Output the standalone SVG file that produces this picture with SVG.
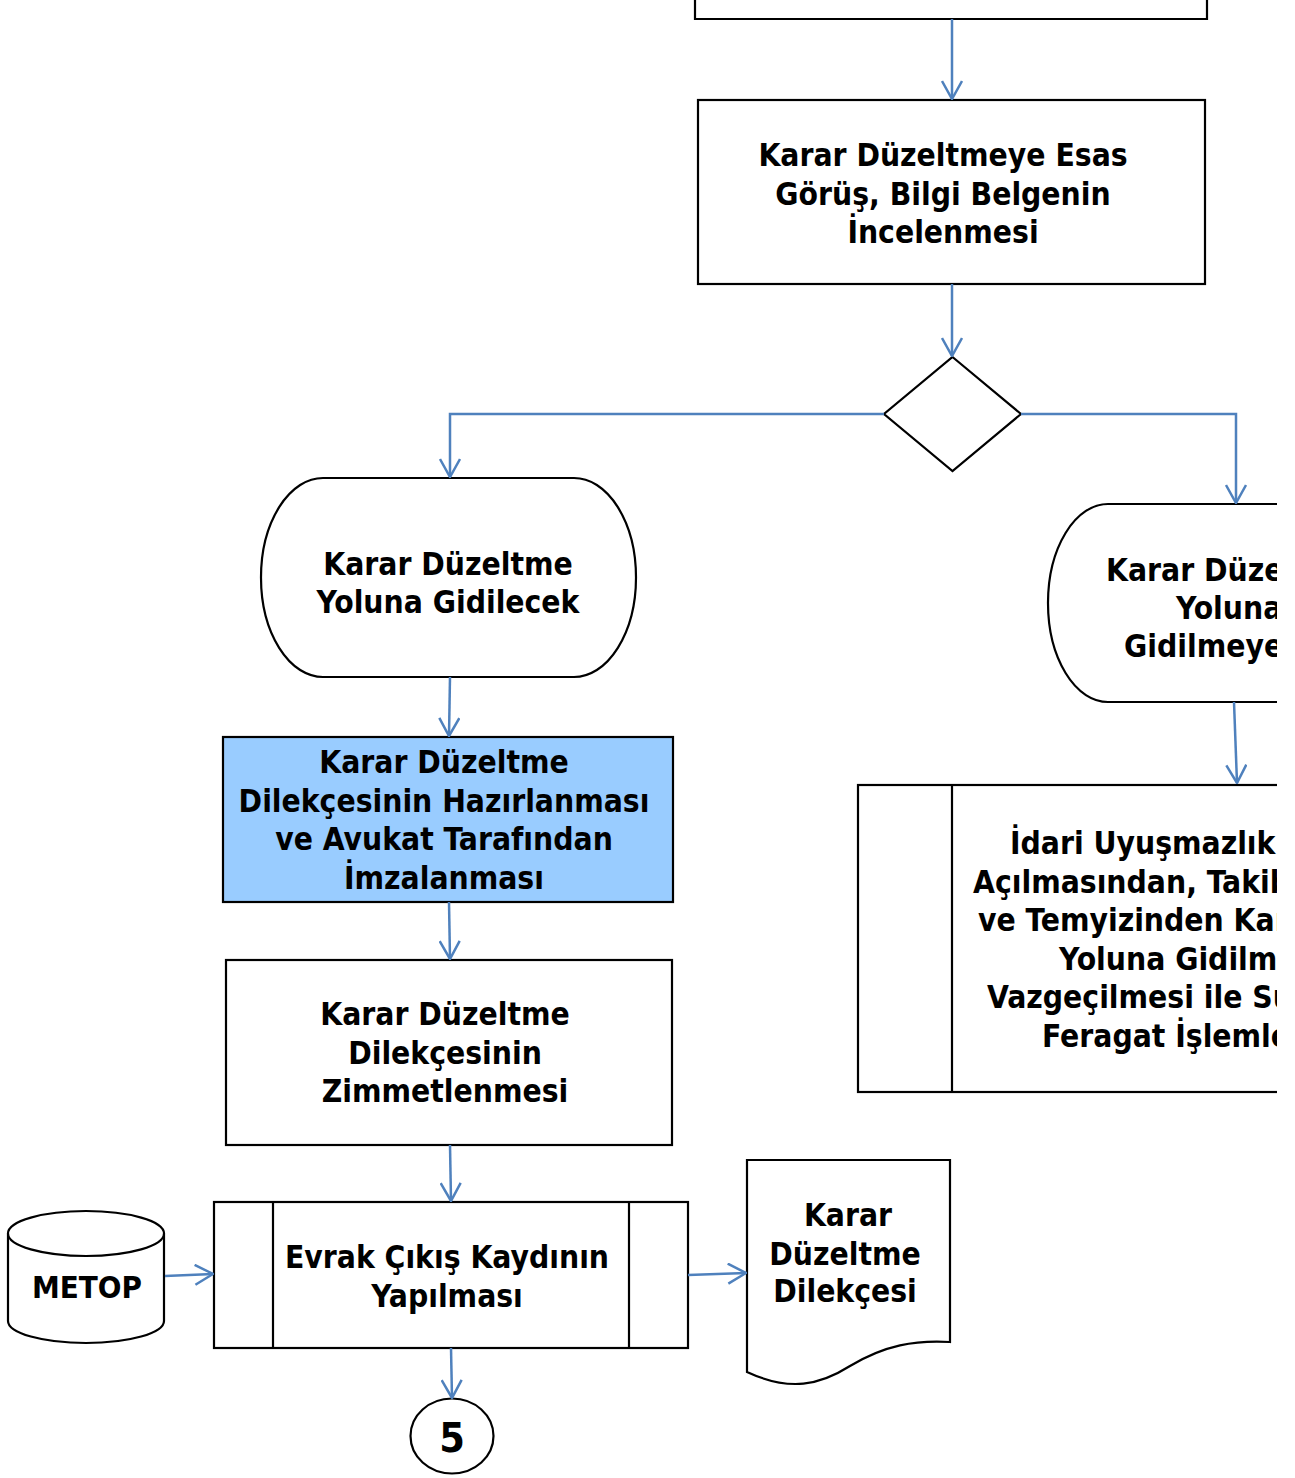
<svg xmlns="http://www.w3.org/2000/svg" width="1295" height="1478" viewBox="0 0 1295 1478">
<style>
.shape{fill:#fff;stroke:#000;stroke-width:2.2}
.blue{fill:#99CCFF;stroke:#000;stroke-width:2.2}
.line{fill:none;stroke:#4F81BD;stroke-width:2.5}
text{font-family:"DejaVu Sans Condensed","DejaVu Sans",sans-serif;font-weight:bold;font-size:31.5px;fill:#000}
.c{text-anchor:middle}
</style>
<defs>
<marker id="arr" markerUnits="userSpaceOnUse" viewBox="0 0 20 22" refX="19" refY="11" markerWidth="20" markerHeight="22" orient="auto">
<path d="M1,1 L19,11 L1,21" fill="none" stroke="#4F81BD" stroke-width="2.5"/>
</marker>
<clipPath id="clip"><rect x="0" y="0" width="1277" height="1478"/></clipPath>
</defs>
<rect width="1295" height="1478" fill="#fff"/>
<g clip-path="url(#clip)">
<g id="top-box"><path class="shape" d="M695,-2 V19 H1207 V-2" fill="none"/></g>
<g id="n-inceleme">
<rect class="shape" x="698" y="100" width="507" height="184"/>
<text class="c" x="943" y="166">Karar Düzeltmeye Esas</text>
<text class="c" x="943" y="205">Görüş, Bilgi Belgenin</text>
<text class="c" x="943" y="243">İncelenmesi</text>
</g>
<g id="n-karar"><path class="shape" d="M952.5,357 L1021,414 L952.5,471 L884,414 Z"/></g>
<g id="n-gidilecek">
<rect class="shape" x="261" y="478" width="375" height="199" rx="62" ry="99.5"/>
<text class="c" x="448" y="575">Karar Düzeltme</text>
<text class="c" x="448" y="613">Yoluna Gidilecek</text>
</g>
<g id="n-gidilmeyecek">
<rect class="shape" x="1048" y="504" width="375" height="198" rx="60" ry="99"/>
<text x="1106" y="581">Karar Düzeltme</text>
<text x="1176" y="619">Yoluna</text>
<text x="1124" y="657">Gidilmeyecek</text>
</g>
<g id="n-dilekce">
<rect class="blue" x="223" y="737" width="450" height="165"/>
<text class="c" x="444" y="773">Karar Düzeltme</text>
<text class="c" x="444" y="812">Dilekçesinin Hazırlanması</text>
<text class="c" x="444" y="850">ve Avukat Tarafından</text>
<text class="c" x="444" y="889">İmzalanması</text>
</g>
<g id="n-zimmet">
<rect class="shape" x="226" y="960" width="446" height="185"/>
<text class="c" x="445" y="1025">Karar Düzeltme</text>
<text class="c" x="445" y="1064">Dilekçesinin</text>
<text class="c" x="445" y="1102">Zimmetlenmesi</text>
</g>
<g id="n-feragat">
<rect class="shape" x="858" y="785" width="560" height="307"/>
<line class="shape" x1="952" y1="785" x2="952" y2="1092"/>
<text x="1010" y="854">İdari Uyuşmazlıkların</text>
<text x="973" y="893">Açılmasından, Takibinden</text>
<text x="978" y="931">ve Temyizinden Karar Düzeltme</text>
<text x="1059" y="970">Yoluna Gidilmesinden</text>
<text x="987" y="1008">Vazgeçilmesi ile Sulh ve</text>
<text x="1042" y="1047">Feragat İşlemleri</text>
</g>
<g id="n-evrak">
<rect class="shape" x="214" y="1202" width="474" height="146"/>
<line class="shape" x1="273" y1="1202" x2="273" y2="1348"/>
<line class="shape" x1="629" y1="1202" x2="629" y2="1348"/>
<text class="c" x="447" y="1268">Evrak Çıkış Kaydının</text>
<text class="c" x="447" y="1307">Yapılması</text>
</g>
<g id="n-metop">
<path class="shape" d="M8,1233.5 V1321 A78,22 0 0 0 164,1321 V1233.5"/>
<ellipse class="shape" cx="86" cy="1233.5" rx="78" ry="22.5"/>
<text class="c" x="87" y="1298" style="font-size:31px">METOP</text>
</g>
<g id="n-belge">
<path class="shape" d="M747,1160 H950 V1342 C915,1340 885,1345 850,1366 C820,1385 790,1392 747,1372 Z"/>
<text class="c" x="848" y="1226">Karar</text>
<text class="c" x="845" y="1265">Düzeltme</text>
<text class="c" x="845" y="1302">Dilekçesi</text>
</g>
<g id="n-5">
<ellipse class="shape" cx="452" cy="1436" rx="41.5" ry="37.5"/>
<text class="c" x="452" y="1452" style="font-size:41px">5</text>
</g>
<g id="connectors">
<path class="line" d="M952,19 V99" marker-end="url(#arr)"/>
<path class="line" d="M952,284 V356" marker-end="url(#arr)"/>
<path class="line" d="M884,414 H450 V477" marker-end="url(#arr)"/>
<path class="line" d="M1021,414 H1236 V503" marker-end="url(#arr)"/>
<path class="line" d="M450,677 L449,736" marker-end="url(#arr)"/>
<path class="line" d="M449,902 L450,959" marker-end="url(#arr)"/>
<path class="line" d="M450,1145 L451,1201" marker-end="url(#arr)"/>
<path class="line" d="M451,1348 L452,1398" marker-end="url(#arr)"/>
<path class="line" d="M165,1276 L213,1274" marker-end="url(#arr)"/>
<path class="line" d="M688,1275 L746,1273" marker-end="url(#arr)"/>
<path class="line" d="M1234,702 L1237,783" marker-end="url(#arr)"/>
</g>
</g>
</svg>
